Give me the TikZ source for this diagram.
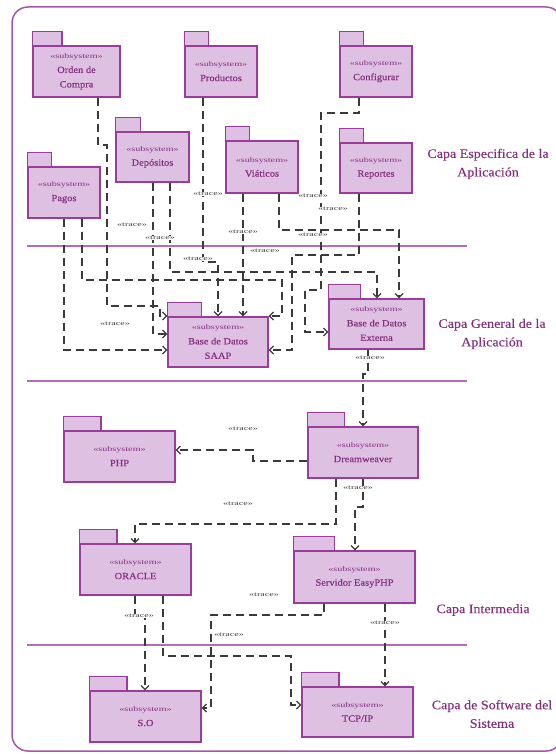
\documentclass[tikz,border=0pt]{standalone}
\usepackage{fontspec}
\setmainfont{Liberation Serif}
\newfontfamily\stfont[FakeStretch=1.45]{Liberation Serif}
\newfontfamily\nmfont[FakeStretch=1.1,FakeBold=0.4]{Liberation Serif}
\newfontfamily\trfont[FakeStretch=1.6]{Liberation Serif}
\newfontfamily\lyfont[FakeStretch=1.08,FakeBold=0.3]{Liberation Serif}
\usetikzlibrary{arrows.meta,calc}
\definecolor{pkfill}{HTML}{DEC0E2}
\definecolor{pkdraw}{HTML}{9C3C9A}
\definecolor{pktext}{HTML}{85307F}
\definecolor{sepcol}{HTML}{B56CB5}
\definecolor{framecol}{HTML}{A458A4}
\definecolor{lngray}{HTML}{3A3A3A}
\definecolor{lbgray}{HTML}{404040}
\tikzset{
  pkg/.style={draw=pkdraw, fill=pkfill, line width=1.3pt, inner sep=0pt, align=center,
    text=pktext, font=\nmfont\fontsize{9.5}{14.5}\selectfont},
  pkgline/.style={draw=pkdraw, fill=pkfill, line width=1.3pt},
  dep/.style={draw=lngray, line width=1.2pt, dash pattern=on 8pt off 5pt,
    -{Straight Barb[length=4pt,width=8pt]}},
  tr/.style={font=\trfont\fontsize{6.3}{7}\selectfont, text=lbgray, fill=white, inner sep=0.6pt},
  layer/.style={font=\lyfont\fontsize{13}{18.5}\selectfont, text=pktext, align=center},
  sep/.style={draw=sepcol, line width=1.6pt}
}
\newcommand{\pk}[6]{%
  \node[pkg, minimum width={(#4)-(#2)}, minimum height={(#5)-(#3)}] (#1)
    at ({((#2)+(#4))/2},{((#3)+(#5))/2}) {{\stfont\fontsize{7}{8}\selectfont «subsystem»}\\#6};
  \draw[pkgline] (#1.north west) rectangle ++({0.34*((#4)-(#2))},-14);
}
\begin{document}
\begin{tikzpicture}[x=1pt,y=-1pt]
\useasboundingbox (0,0) rectangle (556,754);
\draw[draw=framecol, line width=1.5pt, rounded corners=16pt] (12,7) rectangle (562,751);

% separators
\draw[sep] (27,246) -- (467,246);
\draw[sep] (27,381) -- (467,381);
\draw[sep] (27,645) -- (467,645);

% layer labels
\node[layer] (l1) at (488,164) {Capa Especifica de la\\Aplicación};
\node[layer] (l2) at (492,334) {Capa General de la\\Aplicación};
\node[layer] (l3) at (483,610) {Capa Intermedia};
\node[layer] (l4) at (492,714) {Capa de Software del\\Sistema};

% packages
\pk{orden}{33}{46}{120}{97}{Orden de\\Compra}
\pk{productos}{185}{46}{257}{97}{Productos}
\pk{configurar}{340}{46}{412}{97}{Configurar}
\pk{depositos}{116}{132}{189}{182}{Depósitos}
\pk{viaticos}{226}{141}{298}{193}{Viáticos}
\pk{reportes}{340}{143}{412}{193}{Reportes}
\pk{pagos}{28}{167}{100}{218}{Pagos}
\pk{saap}{168}{317}{268}{367}{Base de Datos\\SAAP}
\pk{externa}{329}{299}{424}{349}{Base de Datos\\Externa}
\pk{php}{64}{431}{175}{482}{PHP}
\pk{dream}{308}{427}{418}{478}{Dreamweaver}
\pk{oracle}{80}{544}{191}{595}{ORACLE}
\pk{servidor}{294}{551}{415}{603}{Servidor EasyPHP}
\pk{so}{90}{691}{201}{742}{S.O}
\pk{tcp}{302}{687}{413}{737}{TCP/IP}

% top layer -> general layer
\draw[dep] (orden.south -| 98,0) -- (98,145) -- (107,145) -- (107,306) -- (160,306) -- (160,316) -- (saap.west |- 0,316);
\draw[dep] (depositos.south -| 153,0) -- (153,334) -- (saap.west |- 0,334);
\draw[dep] (pagos.south -| 64,0) -- (64,350) -- (saap.west |- 0,350);
\draw[dep] (pagos.south -| 82,0) -- (82,280) -- (282,280) -- (282,316) -- (saap.east |- 0,316);
\draw[dep] (depositos.south -| 170,0) -- (170,272) -- (377,272) -- (externa.north -| 377,0);
\draw[dep] (productos.south -| 203,0) -- (203,262) -- (218,262) -- (saap.north -| 218,0);
\draw[dep] (viaticos.south -| 243,0) -- (saap.north -| 243,0);
\draw[dep] (viaticos.south -| 279,0) -- (279,230) -- (399,230) -- (externa.north -| 399,0);
\draw[dep] (reportes.south -| 359,0) -- (359,255) -- (292,255) -- (292,350) -- (saap.east |- 0,350);
\draw[dep] (configurar.south -| 359,0) -- (359,113) -- (321,113) -- (321,290) -- (305,290) -- (305,332) -- (externa.west |- 0,332);

\node[tr] (t1) at (132,225) {«trace»};
\node[tr] (t2) at (160,238) {«trace»};
\node[tr] (t3) at (208,194) {«trace»};
\node[tr] (t4) at (243,232) {«trace»};
\node[tr] (t5) at (313,196) {«trace»};
\node[tr] (t6) at (333,209) {«trace»};
\node[tr] (t7) at (313,235) {«trace»};
\node[tr] (t8) at (265,251) {«trace»};
\node[tr] (t9) at (198,259) {«trace»};
\node[tr] (t10) at (115,324) {«trace»};

% general -> intermediate
\draw[dep] (externa.south -| 368,0) -- (368,374) -- (363,374) -- (dream.north -| 363,0);
\node[tr] (t11) at (370,358) {«trace»};

% intermediate
\draw[dep] (dream.west |- 0,461) -- (253,461) -- (253,450) -- (php.east |- 0,450);
\node[tr] (t12) at (243,429) {«trace»};
\draw[dep] (dream.south -| 336,0) -- (336,524) -- (135,524) -- (oracle.north -| 135,0);
\node[tr] (t13) at (238,504) {«trace»};
\draw[dep] (dream.south -| 363,0) -- (363,507) -- (355,507) -- (servidor.north -| 355,0);
\node[tr] (t14) at (358,488) {«trace»};

% intermediate -> system software
\draw[dep] (oracle.south -| 135,0) -- (135,616) -- (145,616) -- (so.north -| 145,0);
\node[tr] (t15) at (139,616) {«trace»};
\draw[dep] (oracle.south -| 163,0) -- (163,656) -- (291,656) -- (291,705) -- (tcp.west |- 0,705);
\draw[dep] (servidor.south -| 324,0) -- (324,615) -- (211,615) -- (211,708) -- (so.east |- 0,708);
\node[tr] (t16) at (264,595) {«trace»};
\node[tr] (t17) at (229,635) {«trace»};
\draw[dep] (servidor.south -| 385,0) -- (tcp.north -| 385,0);
\node[tr] (t18) at (385,623) {«trace»};
\end{tikzpicture}
\end{document}
